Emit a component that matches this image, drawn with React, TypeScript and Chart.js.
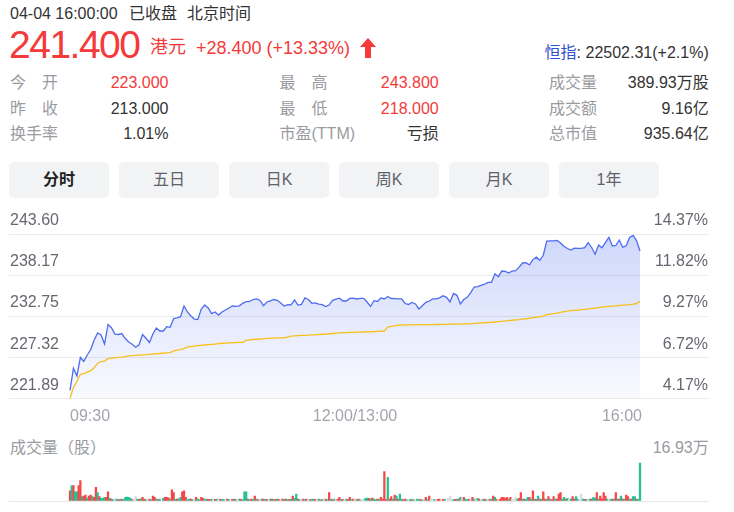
import React, { useEffect, useRef } from 'react';
import { Chart, registerables } from 'chart.js';

Chart.register(...registerables);

// ---------- data ----------
const PRICE_STEP = 2; // minutes between price points
const PRICE = [
  223.00, 225.90, 224.89, 227.33, 226.83, 227.66, 228.39, 229.64, 230.57, 230.30,
  229.11, 231.69, 231.27, 230.43, 230.37, 230.49, 229.83, 229.38, 229.09, 228.69,
  229.01, 230.37, 229.87, 229.31, 230.43, 231.23, 230.83, 230.83, 231.41, 231.32,
  232.47, 232.56, 232.72, 234.13, 233.34, 232.81, 232.41, 232.35, 233.74, 234.26,
  233.87, 233.13, 233.34, 232.94, 233.34, 233.60, 233.87, 234.13, 234.09, 234.16,
  234.49, 234.70, 234.73, 234.99, 235.06, 234.86, 234.17, 234.66, 234.82, 234.99,
  234.88, 234.53, 234.13, 234.32, 234.29, 234.95, 234.26, 234.34, 235.21, 234.99,
  234.49, 234.55, 234.37, 234.32, 234.05, 234.26, 234.88, 235.03, 235.16, 234.79,
  234.79, 235.13, 235.16, 235.06, 235.15, 235.15, 234.66, 234.07, 234.83, 234.73,
  235.19, 235.06, 235.39, 235.12, 235.11, 235.08, 235.06, 234.46, 234.33, 234.61,
  234.40, 233.74, 234.16, 234.62, 234.79, 235.06, 235.06, 235.20, 235.48, 235.28,
  234.66, 235.78, 235.54, 234.40, 234.99, 235.27, 235.91, 236.64, 236.69, 236.85,
  237.01, 237.26, 237.26, 238.38, 238.00, 238.75, 238.71, 238.49, 238.75, 238.79,
  239.26, 239.81, 239.84, 239.55, 240.26, 240.58, 240.17, 240.83, 242.69, 242.74,
  242.72, 242.79, 242.45, 242.03, 241.72, 241.53, 241.78, 241.75, 241.75, 241.83,
  242.50, 241.86, 240.97, 242.19, 241.82, 242.52, 243.18, 242.05, 242.12, 242.85,
  241.90, 242.09, 243.18, 243.45, 242.78, 241.40,
];
const AVG = [
  221.94, 223.39, 224.16, 225.12, 225.20, 225.40, 225.60, 225.98, 226.55, 226.80,
  226.86, 227.20, 227.26, 227.30, 227.34, 227.38, 227.45, 227.54, 227.58, 227.61,
  227.64, 227.67, 227.70, 227.75, 227.79, 227.82, 227.86, 227.89, 227.93, 227.97,
  228.20, 228.30, 228.38, 228.50, 228.73, 228.78, 228.84, 228.89, 228.93, 228.98,
  229.02, 229.07, 229.11, 229.16, 229.21, 229.23, 229.25, 229.28, 229.30, 229.32,
  229.34, 229.60, 229.67, 229.71, 229.74, 229.77, 229.81, 229.85, 229.88, 229.89,
  229.91, 229.92, 229.94, 230.03, 230.15, 230.19, 230.21, 230.24, 230.26, 230.29,
  230.31, 230.33, 230.36, 230.40, 230.43, 230.47, 230.50, 230.54, 230.58, 230.61,
  230.62, 230.64, 230.65, 230.67, 230.68, 230.70, 230.71, 230.73, 230.75, 230.77,
  230.80, 230.83, 231.35, 231.45, 231.50, 231.56, 231.62, 231.63, 231.64, 231.65,
  231.66, 231.66, 231.67, 231.67, 231.68, 231.68, 231.69, 231.69, 231.70, 231.71,
  231.72, 231.73, 231.74, 231.75, 231.76, 231.77, 231.79, 231.83, 231.86, 231.89,
  231.92, 231.95, 231.98, 232.02, 232.07, 232.11, 232.16, 232.20, 232.25, 232.29,
  232.33, 232.39, 232.45, 232.52, 232.58, 232.65, 232.71, 232.78, 232.98, 233.05,
  233.12, 233.20, 233.29, 233.40, 233.46, 233.51, 233.56, 233.60, 233.65, 233.69,
  233.75, 233.80, 233.85, 233.91, 233.97, 234.04, 234.08, 234.12, 234.16, 234.20,
  234.24, 234.28, 234.32, 234.38, 234.46, 234.76,
];
// volume per minute, thousand shares
const VOLUME = [
  45, 68, 68, 41, 41, 68, 90, 19, 22, 26,
  13, 22, 26, 19, 16, 60, 37, 19, 12, 12,
  16, 16, 41, 12, 8, 6, 9, 9, 6, 7,
  8, 6, 16, 17, 16, 12, 6, 8, 22, 9,
  7, 10, 16, 8, 6, 5, 9, 6, 22, 16,
  8, 6, 9, 5, 12, 16, 16, 14, 8, 49,
  37, 7, 9, 10, 16, 41, 45, 16, 6, 9,
  8, 6, 7, 16, 8, 6, 16, 12, 6, 8,
  7, 6, 9, 5, 7, 8, 6, 9, 6, 7,
  5, 8, 6, 9, 7, 8, 6, 5, 9, 7,
  6, 41, 41, 8, 6, 9, 7, 22, 8, 6,
  5, 8, 9, 6, 7, 5, 9, 8, 6, 7,
  8, 6, 5, 9, 7, 8, 6, 7, 9, 22,
  12, 31, 8, 6, 7, 9, 6, 8, 5, 7,
  6, 8, 7, 6, 9, 5, 7, 6, 8, 6,
  37, 8, 6, 9, 7, 8, 16, 6, 7, 5,
  9, 7, 16, 6, 8, 6, 7, 9, 5, 8,
  7, 12, 13, 12, 9, 13, 8, 6, 9, 7,
  16, 9, 130, 6, 105, 8, 19, 7, 26, 22,
  9, 31, 8, 6, 8, 5, 6, 7, 5, 6,
  5, 8, 6, 7, 5, 8, 16, 6, 22, 7,
  8, 6, 9, 7, 8, 6, 7, 9, 8, 12,
  22, 8, 6, 7, 9, 8, 16, 7, 16, 9,
  6, 8, 7, 16, 9, 6, 12, 8, 7, 6,
  8, 6, 9, 7, 8, 22, 16, 7, 6, 9,
  16, 16, 12, 16, 8, 16, 9, 7, 16, 9,
  12, 37, 8, 9, 7, 16, 16, 9, 45, 8,
  7, 22, 8, 9, 41, 9, 7, 19, 8, 6,
  19, 9, 8, 31, 37, 9, 16, 8, 12, 7,
  8, 19, 9, 19, 8, 7, 31, 8, 7, 7,
  6, 8, 9, 16, 12, 37, 9, 22, 9, 37,
  22, 8, 9, 7, 9, 8, 37, 9, 8, 22,
  9, 8, 26, 19, 9, 8, 19, 19, 9, 7,
  169.3,
];
// 1 = up (red), -1 = down (green), 0 = flat (grey)
const VOL_DIR = [
  1, -1, 1, -1, -1, 1, 1, -1, 1, 1,
  -1, 1, 1, -1, 1, 1, -1, 1, -1, -1,
  -1, 1, 1, -1, 1, -1, 0, -1, 1, -1,
  1, -1, -1, -1, -1, -1, 1, 0, 0, -1,
  1, -1, 1, 1, -1, 0, 1, -1, 1, 1,
  -1, 1, -1, 0, -1, 1, 1, 1, -1, 1,
  1, -1, 1, -1, -1, 1, 1, 1, -1, -1,
  1, -1, 0, 1, -1, -1, 1, 1, -1, -1,
  1, 1, -1, 0, 1, -1, 0, 1, -1, -1,
  0, 1, -1, 0, 1, -1, 1, 0, -1, 1,
  -1, -1, -1, 1, -1, 1, -1, 1, -1, 1,
  0, -1, 1, -1, 1, 0, -1, 1, -1, 1,
  -1, 1, 0, 1, -1, 1, -1, 1, -1, 1,
  -1, -1, 1, -1, 0, 1, -1, 1, 0, -1,
  1, -1, 1, 0, -1, 1, -1, 0, 1, -1,
  1, -1, 1, -1, 0, 1, 1, -1, 1, 0,
  -1, 1, 1, -1, 1, 0, -1, 1, -1, 0,
  0, -1, -1, 1, -1, 1, -1, -1, 1, -1,
  1, 1, 1, 1, -1, 1, 1, -1, 1, -1,
  1, -1, -1, 1, 1, -1, 0, -1, 1, -1,
  0, -1, -1, 1, -1, 0, 1, -1, 1, 0,
  0, -1, 0, 1, 1, 0, 1, -1, 0, 0,
  0, 0, -1, 1, -1, 1, -1, 0, 1, -1,
  -1, 1, 0, 1, -1, 0, -1, 1, 0, -1,
  1, -1, 0, 1, -1, 1, -1, 1, 0, 1,
  1, 1, 1, 1, -1, 1, 0, 0, 0, -1,
  1, 1, -1, 1, -1, -1, 1, -1, 1, -1,
  1, -1, 1, -1, 1, 1, -1, 1, -1, 1,
  1, -1, 1, 1, 1, -1, -1, 1, -1, 0,
  -1, 1, 1, -1, -1, 0, 0, -1, 1, -1,
  0, -1, 1, -1, -1, 1, -1, 1, 1, 1,
  1, -1, 0, -1, 1, -1, 1, -1, 1, -1,
  1, -1, 1, 1, -1, 1, -1, -1, 1, -1,
  -1,
];
const Y_TICKS = [243.60, 238.17, 232.75, 227.32, 221.89];
const Y_LABELS_LEFT = ['243.60', '238.17', '232.75', '227.32', '221.89'];
const Y_LABELS_RIGHT = ['14.37%', '11.82%', '9.27%', '6.72%', '4.17%'];
const TIME_LABELS = ['09:30', '12:00/13:00', '16:00'];
const TIME_LABEL_MINUTES = [0, 165, 330];
const VOL_MAX = 169.3;

const TABS = ['分时', '五日', '日K', '周K', '月K', '1年'];

// ---------- styles ----------
const RED = '#f43a3a';
const BLUE = '#4d6cf0';
const YELLOW = '#f8c01a';
const FONT = 'Arial, "Liberation Sans", "Noto Sans CJK SC", sans-serif';
const X_MIN = -35.32;
const X_MAX = 369.95;

type TP = { x: number; cy: number; size: number; color: string; align?: 'left' | 'right'; weight?: number; children: React.ReactNode; ls?: number };
function T({ x, cy, size, color, align = 'left', weight = 400, children, ls = 0 }: TP) {
  const h = Math.round(size * 1.6);
  const st: React.CSSProperties = {
    position: 'absolute', top: cy - h / 2, height: h, lineHeight: h + 'px',
    fontSize: size, color, whiteSpace: 'nowrap', fontWeight: weight, letterSpacing: ls,
  };
  if (align === 'left') st.left = x; else { st.right = 734 - x; st.textAlign = 'right'; }
  return <div style={st}>{children}</div>;
}

const labelPlugin = {
  id: 'labels',
  afterDraw(chart: any) {
    const { ctx, chartArea, scales } = chart;
    const x = scales.x, y = scales.y;
    ctx.save();
    ctx.font = '16px ' + FONT;
    ctx.fillStyle = '#656870';
    ctx.textBaseline = 'alphabetic';
    Y_TICKS.forEach((v, i) => {
      const py = y.getPixelForValue(v);
      ctx.textAlign = 'left';
      ctx.fillText(Y_LABELS_LEFT[i], chartArea.left + 1, py - 9);
      ctx.textAlign = 'right';
      ctx.fillText(Y_LABELS_RIGHT[i], chartArea.right - 1, py - 9);
    });
    ctx.fillStyle = '#a3a5ad';
    ctx.textBaseline = 'middle';
    TIME_LABELS.forEach((t, i) => {
      const px = x.getPixelForValue(TIME_LABEL_MINUTES[i]);
      ctx.textAlign = i === 0 ? 'left' : i === TIME_LABELS.length - 1 ? 'right' : 'center';
      ctx.fillText(t, i === TIME_LABELS.length - 1 ? px + 2 : px, chartArea.bottom + 17.5);
    });
    ctx.restore();
  },
};

export default function App() {
  const priceRef = useRef<HTMLCanvasElement>(null);
  const volRef = useRef<HTMLCanvasElement>(null);

  useEffect(() => {
    const pc = new Chart(priceRef.current as HTMLCanvasElement, {
      type: 'line',
      data: {
        datasets: [
          {
            data: PRICE.map((p, i) => ({ x: i * PRICE_STEP, y: p })),
            borderColor: BLUE,
            borderWidth: 1.3,
            pointRadius: 0,
            tension: 0,
            fill: 'start',
            order: 2,
            backgroundColor: (c: any) => {
              const a = c.chart.chartArea;
              if (!a) return 'rgba(77,108,240,0.15)';
              const g = c.chart.ctx.createLinearGradient(0, a.top, 0, a.bottom);
              g.addColorStop(0, 'rgba(77,108,240,0.27)');
              g.addColorStop(1, 'rgba(77,108,240,0.03)');
              return g;
            },
          },
          {
            data: AVG.map((p, i) => ({ x: i * PRICE_STEP, y: p })),
            borderColor: YELLOW,
            borderWidth: 1.3,
            pointRadius: 0,
            tension: 0,
            fill: false,
            order: 1,
          },
        ],
      } as any,
      options: {
        animation: false,
        responsive: false,
        maintainAspectRatio: false,
        layout: { padding: { left: 9, right: 25, top: 34.3, bottom: 26.3 } },
        plugins: { legend: { display: false }, tooltip: { enabled: false } },
        scales: {
          x: { type: 'linear', min: X_MIN, max: X_MAX, display: false },
          y: {
            min: 221.89, max: 243.60, display: true,
            border: { display: false },
            grid: { color: '#ebebeb', drawTicks: false, lineWidth: 1 },
            ticks: { display: false },
            afterBuildTicks: (s: any) => { s.ticks = Y_TICKS.map((v) => ({ value: v })); },
          },
        },
      } as any,
      plugins: [labelPlugin],
    });

    const vc = new Chart(volRef.current as HTMLCanvasElement, {
      type: 'bar',
      data: {
        datasets: [
          {
            data: VOLUME.map((v, i) => ({ x: i, y: v })),
            backgroundColor: VOL_DIR.map((d) => (d > 0 ? '#f64646' : d < 0 ? '#22c197' : '#dadada')),
            borderWidth: 0,
            barThickness: 1.6,
            grouped: false,
          },
        ],
      } as any,
      options: {
        animation: false,
        responsive: false,
        maintainAspectRatio: false,
        layout: { padding: { left: 9, right: 25, top: 22.7, bottom: 9 } },
        plugins: { legend: { display: false }, tooltip: { enabled: false } },
        scales: {
          x: { type: 'linear', min: X_MIN, max: X_MAX, display: false, offset: false },
          y: {
            min: 0, max: VOL_MAX, display: true,
            border: { display: false },
            grid: { color: '#e8e8e8', drawTicks: false },
            ticks: { display: false },
            afterBuildTicks: (s: any) => { s.ticks = [{ value: 0 }]; },
          },
        },
      } as any,
    });

    return () => { pc.destroy(); vc.destroy(); };
  }, []);

  const rows: [string, string, string][][] = [
    [['今　开', '223.000', RED], ['最　高', '243.800', RED], ['成交量', '389.93万股', '#333']],
    [['昨　收', '213.000', '#333'], ['最　低', '218.000', RED], ['成交额', '9.16亿', '#333']],
    [['换手率', '1.01%', '#333'], ['市盈(TTM)', '亏损', '#333'], ['总市值', '935.64亿', '#333']],
  ];
  const rowCy = [83, 108.5, 134];
  const labelX = [10, 279.5, 549];
  const valueRight = [168.5, 438.7, 708.7];

  return (
    <div style={{ position: 'absolute', left: 0, top: 0, width: 734, height: 512, background: '#fff', fontFamily: FONT, overflow: 'hidden' }}>
      <T x={10} cy={13.5} size={16} color="#333">04-04 16:00:00</T>
      <T x={129} cy={13.5} size={16} color="#333">已收盘</T>
      <T x={187} cy={13.5} size={16} color="#333">北京时间</T>

      <T x={9} cy={45} size={39} color={RED} ls={-1.5}>241.400</T>
      <T x={150} cy={47.5} size={18} color={RED}>港元</T>
      <T x={196} cy={48.8} size={18} color={RED}>+28.400 (+13.33%)</T>
      <svg style={{ position: 'absolute', left: 360, top: 38 }} width={16} height={20} viewBox="0 0 16 20">
        <polygon points="8,0 16,9 11,9 11,20 5,20 5,9 0,9" fill={RED} />
      </svg>
      <T x={708.7} cy={52.5} size={16} color="#333" align="right">
        <span style={{ color: '#3050d0' }}>恒指</span>: 22502.31(+2.1%)
      </T>

      {rows.map((r, ri) =>
        r.map((c, ci) => (
          <React.Fragment key={ri + '-' + ci}>
            <T x={labelX[ci]} cy={rowCy[ri]} size={16} color="#9a9ba1">{c[0]}</T>
            <T x={valueRight[ci]} cy={rowCy[ri]} size={16} color={c[2]} align="right">{c[1]}</T>
          </React.Fragment>
        ))
      )}

      {TABS.map((t, i) => (
        <div key={t} style={{
          position: 'absolute', left: 9 + i * 110, top: 162, width: 100, height: 36,
          background: '#f2f3f5', borderRadius: 5, textAlign: 'center', lineHeight: '36px',
          fontSize: 16, color: i === 0 ? '#222' : '#5f626a', fontWeight: i === 0 ? 700 : 400,
        }}>{t}</div>
      ))}

      <canvas ref={priceRef} width={734} height={225} style={{ position: 'absolute', left: 0, top: 200, width: 734, height: 225 }} />

      <T x={10} cy={448} size={16} color="#9a9ba1">成交量（股）</T>
      <T x={708.7} cy={447.5} size={16} color="#9a9ba1" align="right">16.93万</T>

      <canvas ref={volRef} width={734} height={70} style={{ position: 'absolute', left: 0, top: 440, width: 734, height: 70 }} />
    </div>
  );
}
